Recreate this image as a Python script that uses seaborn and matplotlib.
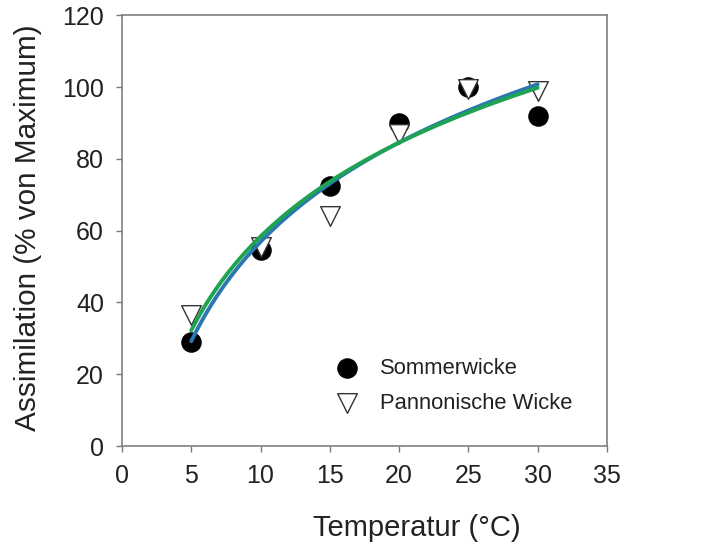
import matplotlib
matplotlib.use("Agg")
import matplotlib.pyplot as plt
import seaborn as sns
import pandas as pd

temperature = [5, 10, 15, 20, 25, 30]
sommerwicke = [29, 54.5, 72.5, 90, 100, 92]
pannonische = [36.5, 55.5, 64, 87, 99.5, 99]
series_names = ["Sommerwicke", "Pannonische Wicke"]
x_ticks = [0, 5, 10, 15, 20, 25, 30, 35]
y_ticks = [0, 20, 40, 60, 80, 100, 120]

sns.set_style("ticks")
plt.rcParams["font.family"] = ["Liberation Sans", "DejaVu Sans"]

df_s = pd.DataFrame({"T": temperature, "A": sommerwicke})
df_p = pd.DataFrame({"T": temperature, "A": pannonische})

fig = plt.figure(figsize=(7.26, 5.46), dpi=100)
ax = fig.add_axes([0.168, 0.183, 0.668, 0.789])

sns.scatterplot(data=df_s, x="T", y="A", ax=ax, marker="o", s=190,
                color="black", edgecolor="black", linewidth=1, label=series_names[0], zorder=3)
sns.scatterplot(data=df_p, x="T", y="A", ax=ax, marker="v", s=200,
                color="white", edgecolor="#333333", linewidth=1, label=series_names[1], zorder=4)

sns.regplot(data=df_s, x="T", y="A", ax=ax, logx=True, scatter=False, ci=None,
            line_kws={"color": "#2b78b0", "lw": 2.8, "zorder": 5})
sns.regplot(data=df_p, x="T", y="A", ax=ax, logx=True, scatter=False, ci=None,
            line_kws={"color": "#1ea352", "lw": 2.8, "zorder": 6})

ax.set_xlim(0, 35)
ax.set_ylim(0, 120)
ax.set_xticks(x_ticks)
ax.set_yticks(y_ticks)
ax.tick_params(labelsize=18, length=4, width=1, color="#777777", labelcolor="#222222")
ax.tick_params(axis="x", pad=9)
ax.tick_params(axis="y", pad=9)
for sp in ax.spines.values():
    sp.set_visible(True)
    sp.set_color("#808080")
    sp.set_linewidth(1.2)
ax.set_xlabel("Temperatur (°C)", fontsize=21, color="#222222")
ax.set_ylabel("Assimilation (% von Maximum)", fontsize=21.4, color="#222222")
ax.xaxis.set_label_coords(0.608, -0.158)
ax.yaxis.set_label_coords(-0.165, 0.508)

leg = ax.legend(loc="upper left", bbox_to_anchor=(0.40, 0.225), frameon=False,
                fontsize=15.8, handletextpad=0.5, labelspacing=0.65, borderaxespad=0)
for t in leg.get_texts():
    t.set_color("#222222")

fig.savefig("out.png", dpi=100)
